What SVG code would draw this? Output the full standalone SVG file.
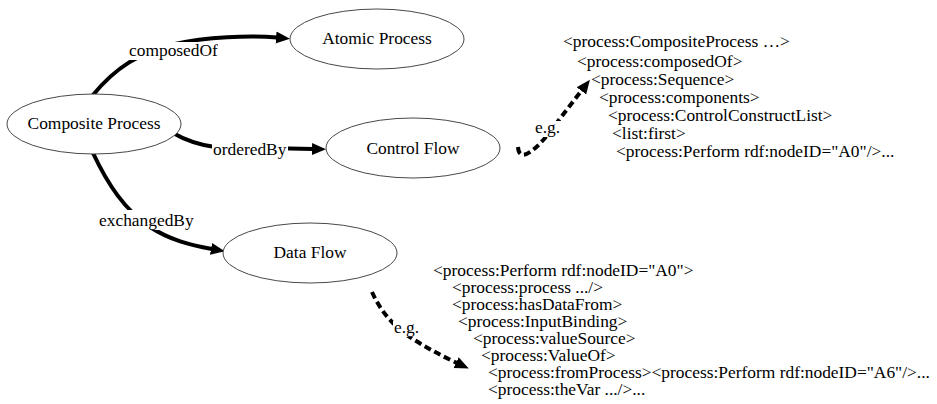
<svg xmlns="http://www.w3.org/2000/svg" width="937" height="404" viewBox="0 0 937 404">
<style>
text{font-family:"Liberation Serif","Times New Roman",serif;font-size:17.4px;fill:#000}
.node{fill:#fff;stroke:#333;stroke-width:0.9}
.mid{text-anchor:middle}
.edge{fill:none;stroke:#000;stroke-width:4}
.dash{fill:none;stroke:#000;stroke-width:4;stroke-dasharray:7 4}
.bg{fill:#fff}
</style>
<defs>
<marker id="ah" markerUnits="userSpaceOnUse" markerWidth="15" markerHeight="13" refX="1" refY="6" orient="auto" viewBox="0 0 15 12">
<path d="M0,0 L14,6 L0,12 z" fill="#000"/>
</marker>
</defs>
<g id="connectors">
<path class="edge" d="M93,95 C115,68 140,52 175,44 C205,37 250,35 277,37.5" marker-end="url(#ah)"/>
<path class="edge" d="M173,133 C185,140 200,145 215,147 L313,149" marker-end="url(#ah)"/>
<path class="edge" d="M93,153 C108,185 125,210 150,227 C170,240 190,245 212,249" marker-end="url(#ah)"/>
<path class="dash" d="M518,147 C519,162 532,153 545,138 L582,90" marker-end="url(#ah)"/>
<path class="dash" d="M372,292 C380,310 392,325 410,337 C425,347 440,355 457,363" marker-end="url(#ah)"/>
<rect class="bg" x="128" y="42" width="92" height="18"/>
<text x="129" y="56">composedOf</text>
<rect class="bg" x="212" y="139" width="76" height="20"/>
<text x="213" y="155">orderedBy</text>
<rect class="bg" x="98" y="210" width="98" height="20"/>
<text x="99" y="226">exchangedBy</text>
<rect class="bg" x="534" y="121" width="28" height="16"/>
<text x="535" y="133">e.g.</text>
<rect class="bg" x="393" y="321" width="26" height="16"/>
<text x="394" y="333">e.g.</text>
</g>
<g id="composite">
<ellipse class="node" cx="94" cy="124" rx="87" ry="30"/>
<text class="mid" x="94" y="129">Composite Process</text>
</g>
<g id="atomic">
<ellipse class="node" cx="377" cy="39" rx="87" ry="30"/>
<text class="mid" x="377" y="44">Atomic Process</text>
</g>
<g id="controlflow">
<ellipse class="node" cx="413" cy="148" rx="87" ry="30"/>
<text class="mid" x="413" y="154">Control Flow</text>
</g>
<g id="dataflow">
<ellipse class="node" cx="310" cy="253" rx="87" ry="30"/>
<text class="mid" x="310" y="258">Data Flow</text>
</g>
<g id="code-control">
<text x="563" y="47">&lt;process:CompositeProcess …&gt;</text>
<text x="577" y="67">&lt;process:composedOf&gt;</text>
<text x="591" y="85">&lt;process:Sequence&gt;</text>
<text x="599" y="103">&lt;process:components&gt;</text>
<text x="608" y="121">&lt;process:ControlConstructList&gt;</text>
<text x="612" y="139">&lt;list:first&gt;</text>
<text x="616" y="157">&lt;process:Perform rdf:nodeID="A0"/&gt;...</text>
</g>
<g id="code-data">
<text x="433" y="276">&lt;process:Perform rdf:nodeID="A0"&gt;</text>
<text x="452" y="293">&lt;process:process .../&gt;</text>
<text x="452" y="310">&lt;process:hasDataFrom&gt;</text>
<text x="458" y="327">&lt;process:InputBinding&gt;</text>
<text x="473" y="344">&lt;process:valueSource&gt;</text>
<text x="481" y="361">&lt;process:ValueOf&gt;</text>
<text x="488" y="378">&lt;process:fromProcess&gt;&lt;process:Perform rdf:nodeID="A6"/&gt;...</text>
<text x="488" y="395">&lt;process:theVar .../&gt;...</text>
</g>
</svg>
